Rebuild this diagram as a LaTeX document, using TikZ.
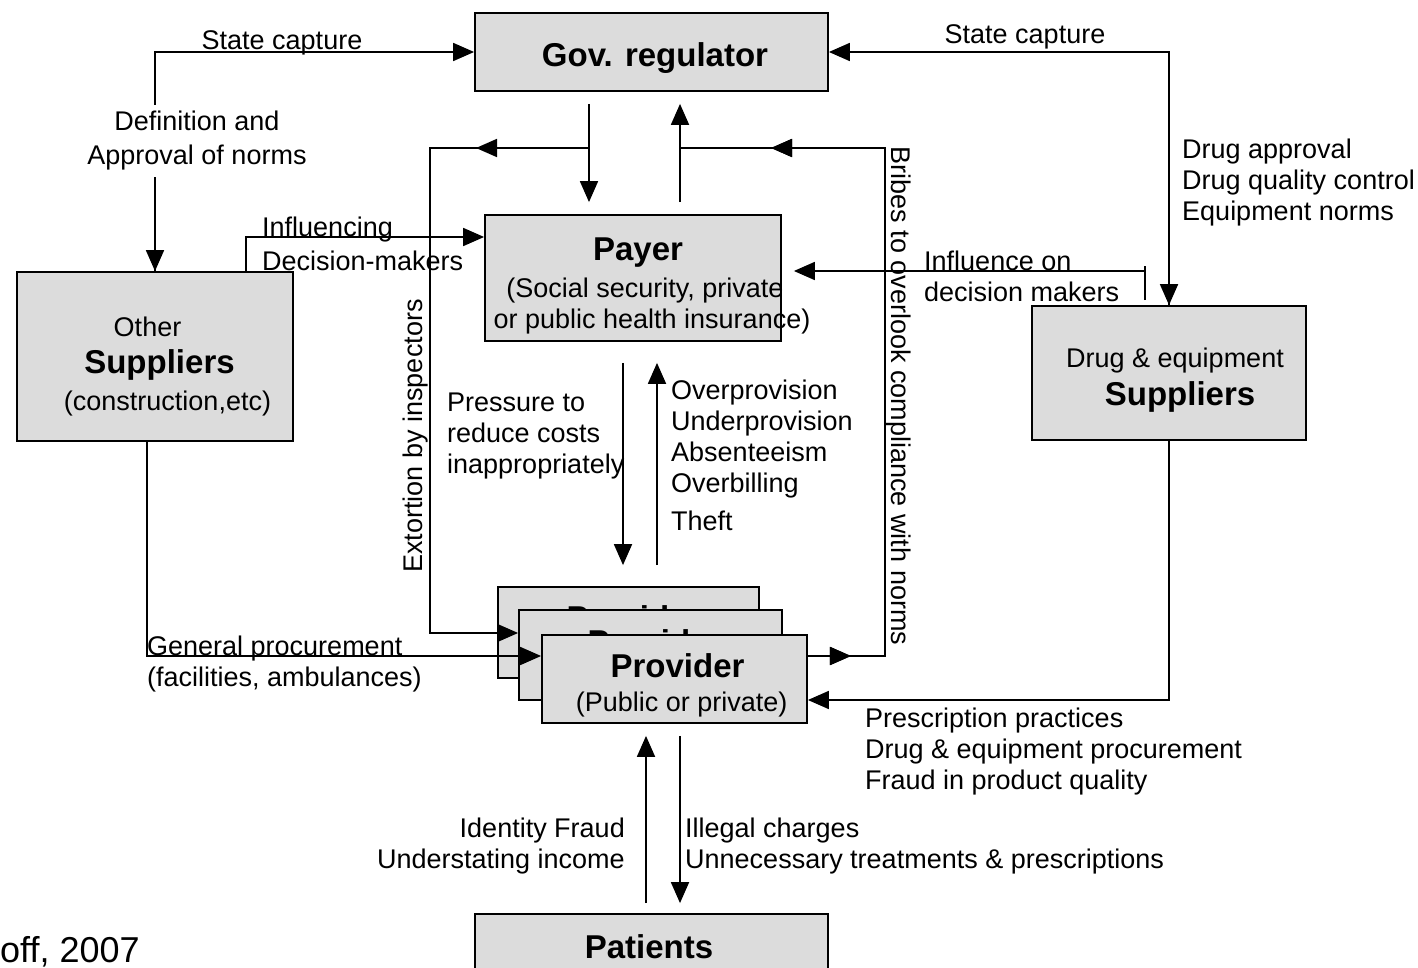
\documentclass[tikz,border=0pt]{standalone}
\usepackage{fontspec}
\setmainfont{Liberation Sans}
\usetikzlibrary{arrows.meta,decorations.markings}
\definecolor{boxgray}{RGB}{220,220,220}
\newcommand{\stack}[2][l]{\begin{tabular}[t]{@{}#1@{}}#2\end{tabular}}
\newcommand{\labfont}{\fontsize{27}{31}\selectfont}
\newcommand{\hdrfont}{\fontsize{33}{38}\selectfont\bfseries}
\begin{document}
\begin{tikzpicture}[x=1pt,y=-1pt,
  box/.style={draw, fill=boxgray, line width=1.8pt, inner sep=0pt},
  wire/.style={draw, line width=1.8pt},
  conn/.style={wire, -{Triangle[length=21pt,width=18pt]}},
  midtip/.style={postaction=decorate, decoration={markings,
      mark=at position #1 with {\arrow{Triangle[length=21pt,width=18pt]}}}},
  lbl/.style={inner sep=0pt, font=\labfont},
  ttl/.style={inner sep=0pt, font=\hdrfont}]
\clip (0,0) rectangle (1418,968);
\fill[white] (0,0) rectangle (1418,968);

% ---- boxes ----
\node[box, minimum width=353pt, minimum height=78pt]  (gov)      at (651.5,52)  {};
\node[box, minimum width=296pt, minimum height=126pt] (payer)    at (633,278)   {};
\node[box, minimum width=276pt, minimum height=169pt] (other)    at (155,356.5) {};
\node[box, minimum width=274pt, minimum height=134pt] (drug)     at (1169,373)  {};
\node[box, minimum width=353pt, minimum height=80pt]  (patients) at (651.5,954) {};

% stacked providers (back to front)
\node[box, minimum width=261pt, minimum height=91pt] (p1) at (628.5,632.5) {};
\node[ttl, anchor=base] (p1t) at (633.5,629) {Provider};
\node[lbl, anchor=base] (p1s) at (637.7,663) {(Public or private)};
\node[box, minimum width=263pt, minimum height=90pt] (p2) at (650.5,655) {};
\node[ttl, anchor=base] (p2t) at (654.5,653) {Provider};
\node[lbl, anchor=base] (p2s) at (658.7,687) {(Public or private)};
\node[box, minimum width=265pt, minimum height=88pt] (p3) at (674.5,679) {};
\node[ttl, anchor=base] (p3t) at (677.5,677) {Provider};
\node[lbl, anchor=base] (p3s) at (681.7,711) {(Public or private)};

% ---- box texts ----
\node[ttl, anchor=base] (govt) at (655,67) {Gov. regulator};
\node[ttl, anchor=base] (payt) at (638,261) {Payer};
\node[lbl, anchor=base] (pay1) at (645,297) {(Social security, private};
\node[lbl, anchor=base] (pay2) at (652,328) {or public health insurance)};
\node[lbl, anchor=base] (oth1) at (147.5,336) {Other};
\node[ttl, anchor=base] (oth2) at (159.5,373) {Suppliers};
\node[lbl, anchor=base] (oth3) at (167.5,410) {(construction,etc)};
\node[lbl, anchor=base] (drg1) at (1175,367) {Drug \& equipment};
\node[ttl, anchor=base] (drg2) at (1180,405) {Suppliers};
\node[ttl, anchor=base] (patt) at (649,958) {Patients};

% ---- lane positions ----
\coordinate (xdown) at (589,0);
\coordinate (xup)   at (680,0);
\coordinate (xpd)   at (623,0);
\coordinate (xpu)   at (657,0);
\coordinate (xqu)   at (646,0);
\coordinate (xqd)   at (680,0);
\coordinate (extS)  at (589,148);
\coordinate (extC)  at (430,148);
\coordinate (brC)   at (885,148);
\coordinate (brE)   at (680,148);
\coordinate (infB)  at (1145,300);
\coordinate (infC)  at (1145,271);

% ---- connectors ----
% state capture / definition of norms (left)
\draw[conn] (other.north) |- (gov.west);
\draw[conn] (gov.west -| other.north) -- (other.north);
% state capture / drug approval (right)
\draw[conn] (drug.north) |- (gov.east);
\draw[conn] (gov.east -| drug.north) -- (drug.north);
% influencing decision-makers
\draw[conn] ([xshift=91pt]other.north) |- ([yshift=41pt]payer.west);
% influence on decision makers
\draw[conn, shorten >=12pt] (infB) -- (infC) -- (payer.east |- infC);
\draw[wire] (infC) -- ++(0,-5);
% regulator <-> payer
\draw[conn, shorten <=12pt, shorten >=12pt] (gov.south -| xdown) -- (payer.north -| xdown);
\draw[conn, shorten <=12pt, shorten >=12pt] (payer.north -| xup) -- (gov.south -| xup);
% extortion by inspectors
\draw[conn, midtip=113pt] (extS) -- (extC) |- ([yshift=22pt]p2.west);
% bribes to overlook compliance
\draw[wire, midtip=43pt, midtip=699pt] ([yshift=23pt]p3.east) -| (brC) -- (brE);
% general procurement
\draw[conn] ([xshift=-8pt]other.south) |- ([yshift=23pt]p3.west);
% drug & equipment procurement
\draw[conn] (drug.south) |- ([yshift=-21pt]p3.east);
% payer <-> provider
\draw[conn, shorten <=21pt, shorten >=21pt] (payer.south -| xpd) -- (p1.north -| xpd);
\draw[conn, shorten <=21pt, shorten >=21pt] (p1.north -| xpu) -- (payer.south -| xpu);
% provider <-> patients
\draw[conn, shorten <=10pt, shorten >=12pt] (patients.north -| xqu) -- (p3.south -| xqu);
\draw[conn, shorten <=12pt, shorten >=10pt] (p3.south -| xqd) -- (patients.north -| xqd);

% ---- connector labels ----
\node[lbl, anchor=base] (scL) at (282,50) {State capture};
\node[lbl, anchor=base] (scR) at (1025,44) {State capture};
\node[lbl, fill=white, inner xsep=3pt, inner ysep=6pt, align=center,
      font=\fontsize{27}{34}\selectfont] (defn) at (197,141) {Definition and\\Approval of norms};
\node[lbl, anchor=base west] (inf1) at (262,237) {Influencing};
\node[lbl, anchor=base west] (inf2) at (262,270) {Decision-makers};
\node[lbl, anchor=base west] (drap) at (1182,159) {\stack{Drug approval\\Drug quality control\\Equipment norms}};
\node[lbl, anchor=base west] (indm) at (924,271) {\stack{Influence on\\decision makers}};
\node[lbl, anchor=base west] (pres) at (447,411) {\stack{Pressure to\\reduce costs\\inappropriately}};
\node[lbl, anchor=base west] (over) at (671,399) {\stack{Overprovision\\Underprovision\\Absenteeism\\Overbilling\\[7pt]Theft}};
\node[lbl, anchor=base west] (genp) at (147,655) {\stack{General procurement\\(facilities, ambulances)}};
\node[lbl, anchor=base west] (prsc) at (865,727) {\stack{Prescription practices\\Drug \& equipment procurement\\Fraud in product quality}};
\node[lbl, anchor=base east] (idfr) at (625,837) {\stack[r]{Identity Fraud\\Understating income}};
\node[lbl, anchor=base west] (ilch) at (685,837) {\stack{Illegal charges\\Unnecessary treatments \& prescriptions}};
\node[lbl, anchor=base, rotate=90]  (extl) at (422,436) {Extortion by inspectors};
\node[lbl, anchor=base, rotate=-90] (brib) at (891,396) {Bribes to overlook compliance with norms};
\node[inner sep=0pt, anchor=base west, font=\fontsize{36}{40}\selectfont] (src) at (0,962) {off, 2007};
\end{tikzpicture}
\end{document}
